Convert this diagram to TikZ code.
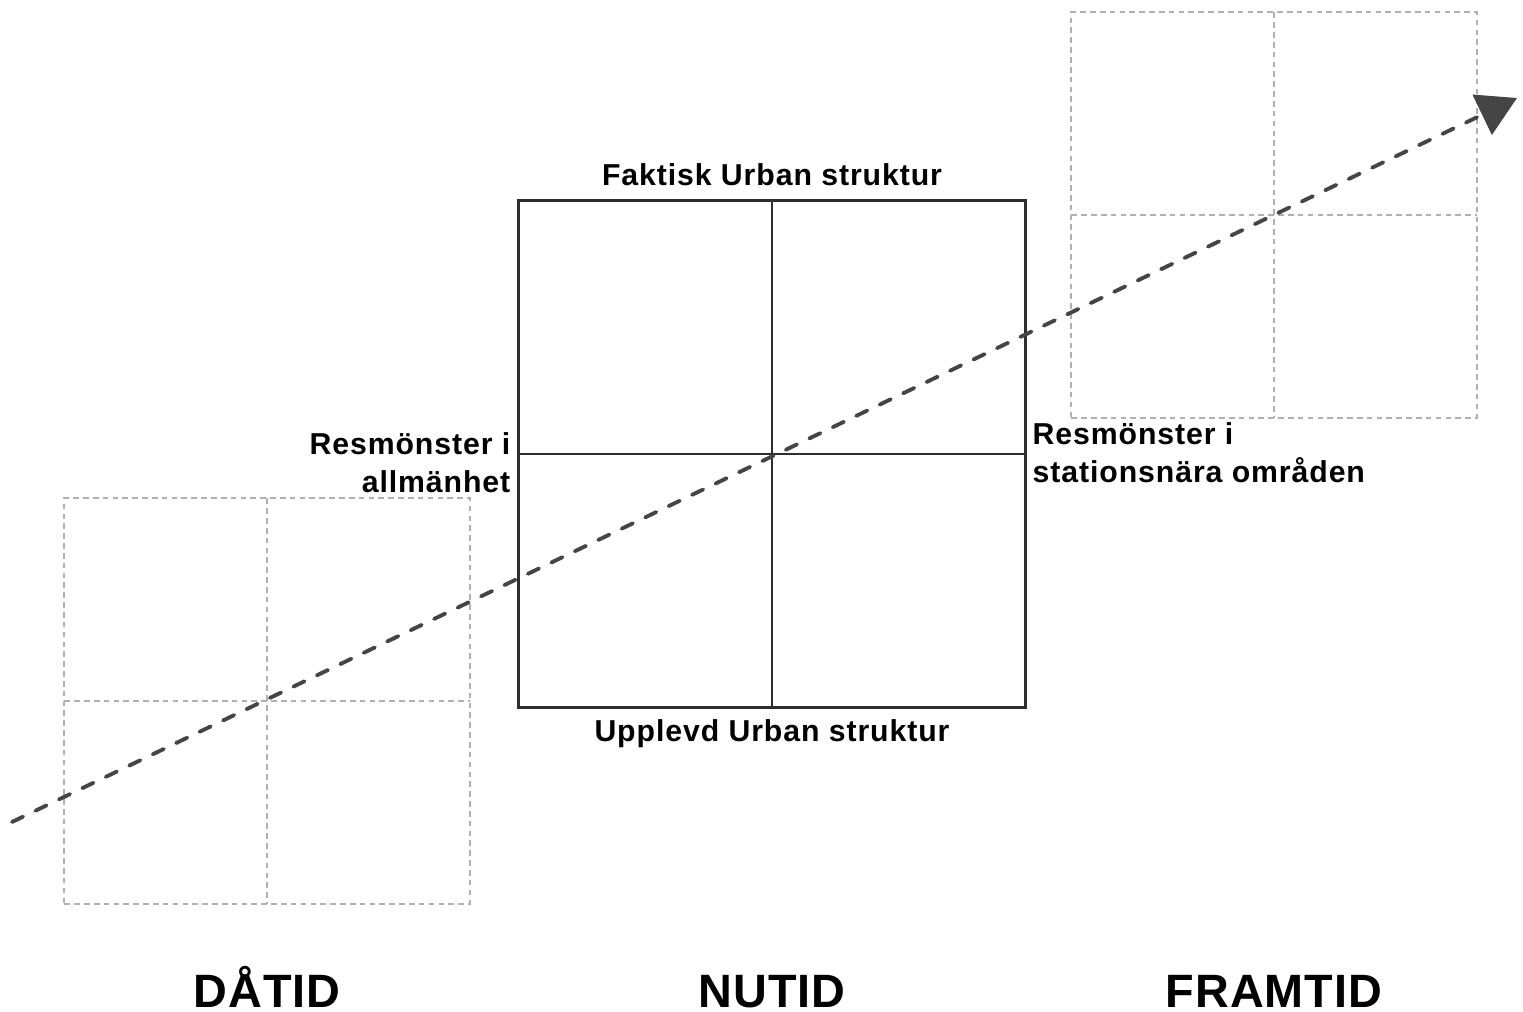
\documentclass[tikz,border=0pt]{standalone}
\usepackage{fontspec}
\setmainfont{Liberation Sans}
\newfontfamily\etikettfont[LetterSpace=3]{Liberation Sans}
\newfontfamily\tidsfont[LetterSpace=2]{Liberation Sans}
\usetikzlibrary{arrows.meta,positioning}

\definecolor{rutgra}{HTML}{B0B0B0}
\definecolor{pilgra}{HTML}{454545}
\definecolor{ramgra}{HTML}{2E2E2E}

\tikzset{
	tidsruta/.style={draw=rutgra, line width=0.55pt, dash pattern=on 1.6pt off 1.2pt, inner sep=0pt, outer sep=0pt, minimum size=4.05cm},
	nuruta/.style={draw=ramgra, line width=0.7pt, inner sep=0pt, outer sep=0pt, minimum size=5.07cm},
	etikett/.style={inner sep=0pt, font=\etikettfont\fontsize{8.6}{10.8}\selectfont\bfseries},
	tidsord/.style={inner sep=0pt, anchor=base, font=\tidsfont\fontsize{13.3}{15}\selectfont\bfseries}
}

\begin{document}
\begin{tikzpicture}[x=0.01cm, y=-0.01cm]
	\useasboundingbox (0,0) rectangle (1523,1012);
	
	% Rutor
		\node[tidsruta] (dat) at (267,701) {};
		\draw[rutgra, line width=0.55pt, dash pattern=on 1.6pt off 1.2pt] (dat.north) -- (dat.south) (dat.west) -- (dat.east);
		
		\node[tidsruta] (fram) at (1274,215) {};
		\draw[rutgra, line width=0.55pt, dash pattern=on 1.6pt off 1.2pt] (fram.north) -- (fram.south) (fram.west) -- (fram.east);
		
		\node[nuruta] (nu) at (772,454) {};
		\draw[ramgra, line width=0.7pt] (nu.north) -- (nu.south) (nu.west) -- (nu.east);
	
	% Tidslinje
		\coordinate (start) at (12,822);
		\coordinate (slut) at (1517,98);
		\draw[pilgra, line width=1.1pt, line cap=round, dash pattern=on 3.5pt off 3.9pt, -{Triangle[length=11pt, width=12.5pt, fill=pilgra]}] (start) -- (slut);
	
	% Texter
		\node[etikett, anchor=base] (faktisk) at (772,185) {Faktisk Urban struktur};
		\node[etikett, anchor=base] (upplevd) at (772,741) {Upplevd Urban struktur};
		\node[etikett, align=right, anchor=south east] (allm) at (511,493) {Resmönster i\\allmänhet};
		\node[etikett, align=left, anchor=south west] (stat) at (1032,483) {Resmönster i\\stationsnära områden};
	
	% Tider
		\node[tidsord] (datid) at (267,1007) {DÅTID};
		\node[tidsord] (nutid) at (772,1007) {NUTID};
		\node[tidsord] (framtid) at (1274,1007) {FRAMTID};
\end{tikzpicture}
\end{document}
